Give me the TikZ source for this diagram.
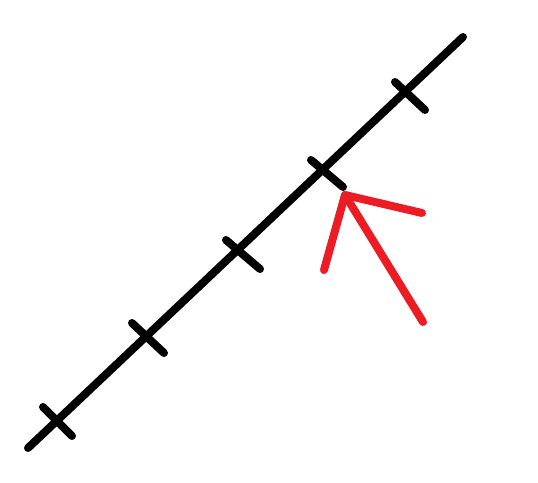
\documentclass[tikz,border=0pt]{standalone}
\usepackage{xcolor}
\usepackage{tikz}
\definecolor{paintred}{HTML}{ED1C24}

\begin{document}
\begin{tikzpicture}[
    x=0.02cm, y=-0.02cm,
    stroke/.style={line width=0.16cm, line cap=round, line join=round},
    axisline/.style={stroke, black},
    tickmark/.style={stroke, black},
    pointer/.style={stroke, paintred}
]
    \useasboundingbox (0,0) rectangle (538,483);
    \coordinate (start) at (28,448);
    \coordinate (end) at (463,37);
    \draw[axisline] (start) -- (end);

    % ticks along the line
    \foreach \ax/\ay/\bx/\by [count=\i] in
        {43/407/72/436, 132/323/164/353, 226/240/260/269,
         311/160/343/187, 395/82/425/110} {
        \coordinate (t\i a) at (\ax,\ay);
        \coordinate (t\i b) at (\bx,\by);
        \draw[tickmark] (t\i a) -- (t\i b);
    }

    % red arrow
    \coordinate (tip) at (345,195);
    \coordinate (barbl) at (324,270);
    \coordinate (barbr) at (422,213);
    \coordinate (tail) at (423,322);
    \draw[pointer] (barbl) -- (tip) -- (barbr);
    \draw[pointer] (tip) -- (tail);
\end{tikzpicture}
\end{document}
